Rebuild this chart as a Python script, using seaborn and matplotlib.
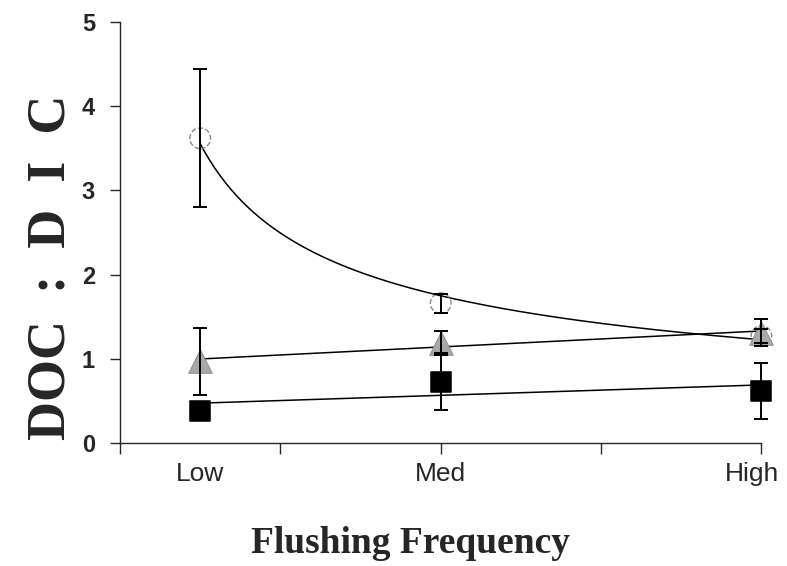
import numpy as np
import pandas as pd
import matplotlib
matplotlib.use("Agg")
import matplotlib.pyplot as plt
import seaborn as sns

# flushing frequency positions (Low, Med, High) on a 0-4 axis
freq = [0.5, 2.0, 4.0]
freq_labels = ["Low", "Med", "High"]

# DOC : DIC means and error bars for the three treatments
circle_y = [3.62, 1.66, 1.27]
circle_err = [0.82, 0.11, 0.08]
triangle_y = [0.97, 1.19, 1.31]
triangle_err = [0.40, 0.14, 0.16]
square_y = [0.38, 0.73, 0.62]
square_err = [0.04, 0.34, 0.33]

sns.set_style("ticks")

fig = plt.figure(figsize=(7.87, 5.66), dpi=100)
ax = fig.add_axes([0.1525, 0.2173, 0.815, 0.7437])

# fitted lines: power fit for circles, linear for the other two
xs = np.linspace(0.5, 4.0, 200)
b, ln_a = np.polyfit(np.log(freq), np.log(circle_y), 1)
fit_c = np.exp(ln_a) * xs ** b
m_t, c_t = np.polyfit(freq, triangle_y, 1)
m_s, c_s = np.polyfit(freq, square_y, 1)

fits = pd.DataFrame({"x": np.tile(xs, 3),
                     "y": np.concatenate([fit_c, m_t * xs + c_t, m_s * xs + c_s]),
                     "grp": np.repeat(["c", "t", "s"], len(xs))})
sns.lineplot(data=fits, x="x", y="y", units="grp", estimator=None,
             color="black", lw=1.1, ax=ax, zorder=2)

# error bars
for yv, ev in [(circle_y, circle_err), (triangle_y, triangle_err), (square_y, square_err)]:
    eb = ax.errorbar(freq, yv, yerr=ev, fmt="none", ecolor="black", elinewidth=1.4,
                     capsize=5, capthick=1.4, zorder=4)
    for art in eb.lines[1] + eb.lines[2]:
        art.set_clip_on(False)

# markers
sns.scatterplot(x=freq, y=circle_y, marker="o", s=220, facecolor="none",
                edgecolor="#8a8a8a", linewidth=1.0, linestyle="--", ax=ax,
                zorder=3, clip_on=False)
sns.scatterplot(x=freq, y=triangle_y, marker="^", s=290, color="#a8a8a8",
                edgecolor="#888888", linewidth=0.6, ax=ax, zorder=3, clip_on=False)
sns.scatterplot(x=freq, y=square_y, marker="s", s=200, color="black",
                edgecolor="black", ax=ax, zorder=5, clip_on=False)

ax.set_xlim(0, 4)
ax.set_ylim(0, 5)
ax.set_xticks([0, 1, 2, 3, 4])
ax.set_xticklabels([])
ax.set_yticks([0, 1, 2, 3, 4, 5])
sns.despine(ax=ax)
for sp in ["left", "bottom"]:
    ax.spines[sp].set_linewidth(1.0)
ax.tick_params(axis="y", direction="out", length=7, width=1.0, labelsize=17, pad=11)
ax.tick_params(axis="x", direction="out", length=8, width=1.0)
for lab in ax.get_yticklabels():
    lab.set_fontweight("bold")
    lab.set_fontfamily("Liberation Sans")

# category labels under the data positions
shifts = [0, 0, -7]
for xv, txt, dx in zip(freq, freq_labels, shifts):
    ax.annotate(txt, xy=(xv, -0.22), xytext=(dx, 0), textcoords="offset points",
                ha="center", va="top", fontsize=19, family="Liberation Sans",
                annotation_clip=False)

ax.set_xlabel("")
ax.set_ylabel("DOC  :  D  I  C", fontsize=39, fontweight="bold",
              family="Liberation Serif")
ax.yaxis.set_label_coords(-0.068, 0.418)
fig.text(0.522, 0.04, "Flushing Frequency", ha="center", va="center",
         fontsize=27, fontweight="bold", family="Liberation Serif")

fig.savefig("out.png", dpi=100)
